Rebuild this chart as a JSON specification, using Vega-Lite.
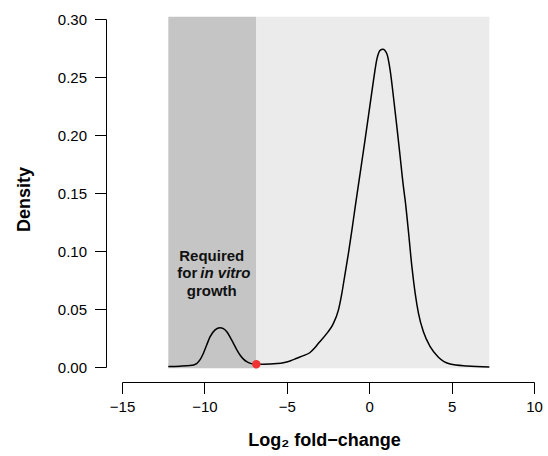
{
  "$schema": "https://vega.github.io/schema/vega-lite/v6.json",
  "autosize": "none",
  "padding": {"left": 122, "top": 19, "right": 14, "bottom": 89},
  "width": 412,
  "height": 348,
  "config": {"view": {"stroke": null}, "font": "Liberation Sans"},
  "datasets": {
    "regions": [
      {"x0": -12.19, "x1": -6.85, "y0": -0.001, "y1": 0.302, "zone": "required"},
      {"x0": -6.85, "x1": 7.29, "y0": -0.001, "y1": 0.302, "zone": "other"}
    ],
    "density": [
      {"x": -12.19, "y": 0.0005}, {"x": -11.5, "y": 0.0007}, {"x": -10.87, "y": 0.0012},
      {"x": -10.47, "y": 0.003}, {"x": -10.25, "y": 0.0065}, {"x": -10.06, "y": 0.0118},
      {"x": -9.86, "y": 0.019}, {"x": -9.66, "y": 0.026}, {"x": -9.35, "y": 0.032},
      {"x": -9.05, "y": 0.0339}, {"x": -8.85, "y": 0.033}, {"x": -8.64, "y": 0.0304},
      {"x": -8.44, "y": 0.0258}, {"x": -8.24, "y": 0.0204}, {"x": -8.04, "y": 0.015},
      {"x": -7.84, "y": 0.0103}, {"x": -7.63, "y": 0.0068}, {"x": -7.43, "y": 0.0046},
      {"x": -7.2, "y": 0.0031}, {"x": -6.92, "y": 0.0023}, {"x": -6.5, "y": 0.0024},
      {"x": -6.01, "y": 0.0026}, {"x": -5.6, "y": 0.003}, {"x": -5.21, "y": 0.0037},
      {"x": -4.8, "y": 0.0052}, {"x": -4.39, "y": 0.0075}, {"x": -3.99, "y": 0.0098},
      {"x": -3.59, "y": 0.0125}, {"x": -3.3, "y": 0.0165}, {"x": -3.08, "y": 0.0204},
      {"x": -2.57, "y": 0.029}, {"x": -2.2, "y": 0.0368}, {"x": -1.87, "y": 0.049},
      {"x": -1.66, "y": 0.0635},
      {"x": -1.46, "y": 0.0808}, {"x": -1.26, "y": 0.098}, {"x": -1.05, "y": 0.118},
      {"x": -0.85, "y": 0.138}, {"x": -0.55, "y": 0.167}, {"x": -0.25, "y": 0.196},
      {"x": 0.06, "y": 0.227}, {"x": 0.26, "y": 0.247}, {"x": 0.46, "y": 0.265},
      {"x": 0.66, "y": 0.273}, {"x": 0.83, "y": 0.274}, {"x": 1.07, "y": 0.27},
      {"x": 1.27, "y": 0.256}, {"x": 1.47, "y": 0.233}, {"x": 1.68, "y": 0.207},
      {"x": 1.88, "y": 0.181}, {"x": 2.08, "y": 0.155}, {"x": 2.18, "y": 0.144},
      {"x": 2.38, "y": 0.117}, {"x": 2.59, "y": 0.0865}, {"x": 2.79, "y": 0.0635},
      {"x": 2.99, "y": 0.0463}, {"x": 3.29, "y": 0.0304}, {"x": 3.7, "y": 0.0175},
      {"x": 4.2, "y": 0.0084}, {"x": 4.91, "y": 0.0026}, {"x": 5.93, "y": 0.0009},
      {"x": 7.29, "y": 0.0001}
    ],
    "cutoff": [{"x": -6.85, "y": 0.0023}],
    "labels": [
      {"x": -9.554, "y": 0.0957, "text": "Required", "part": "centre"},
      {"x": -10.367, "y": 0.0808, "text": "for", "part": "before"},
      {"x": -10.367, "y": 0.0808, "text": "in vitro", "part": "italic"},
      {"x": -9.554, "y": 0.0655, "text": "growth", "part": "centre"}
    ]
  },
  "layer": [
    {
      "data": {"name": "regions"},
      "mark": {"type": "rect", "stroke": null},
      "encoding": {
        "x": {"field": "x0", "type": "quantitative",
          "scale": {"domain": [-15, 10], "nice": false, "zero": false},
          "axis": {
            "values": [-15, -10, -5, 0, 5, 10], "format": "d", "grid": false,
            "offset": 15, "tickSize": 11.5, "tickColor": "black", "domainColor": "black",
            "tickWidth": 1, "domainWidth": 1,
            "labelFontSize": 15, "labelColor": "black", "labelPadding": 6,
            "labelFont": "Liberation Sans", "labelFlush": false,
            "title": "Log₂ fold−change", "titleFontSize": 18, "titleFontWeight": "bold",
            "titleColor": "black", "titleFont": "Liberation Sans",
            "titleX": 202, "titleY": 63, "titleBaseline": "alphabetic", "titleAnchor": "middle", "titleAlign": "center"
          }},
        "x2": {"field": "x1"},
        "y": {"field": "y0", "type": "quantitative",
          "scale": {"domain": [0, 0.3], "nice": false, "zero": false},
          "axis": {
            "values": [0, 0.05, 0.1, 0.15, 0.2, 0.25, 0.3], "format": ".2f", "grid": false,
            "offset": 16, "tickSize": 11.5, "tickColor": "black", "domainColor": "black",
            "tickWidth": 1, "domainWidth": 1,
            "labelFontSize": 15, "labelColor": "black", "labelPadding": 8,
            "labelFont": "Liberation Sans", "labelFlush": false,
            "title": "Density", "titleFontSize": 18, "titleFontWeight": "bold",
            "titleColor": "black", "titleFont": "Liberation Sans",
            "titleX": -77, "titleY": 180, "titleAngle": -90, "titleBaseline": "alphabetic", "titleAlign": "center"
          }},
        "y2": {"field": "y1"},
        "color": {"field": "zone", "type": "nominal",
          "scale": {"domain": ["required", "other"], "range": ["#c5c5c5", "#ebebeb"]},
          "legend": null}
      }
    },
    {
      "data": {"name": "density"},
      "mark": {"type": "line", "color": "black", "strokeWidth": 1.5, "interpolate": "monotone"},
      "encoding": {
        "x": {"field": "x", "type": "quantitative"},
        "y": {"field": "y", "type": "quantitative"}
      }
    },
    {
      "data": {"name": "cutoff"},
      "mark": {"type": "circle", "color": "#f03232", "opacity": 1, "size": 72},
      "encoding": {
        "x": {"field": "x", "type": "quantitative"},
        "y": {"field": "y", "type": "quantitative"}
      }
    },
    {
      "data": {"name": "labels"},
      "transform": [{"filter": "datum.part === 'centre'"}],
      "mark": {"type": "text", "fontWeight": "bold", "fontSize": 15, "color": "#111111", "baseline": "middle", "align": "center", "font": "Liberation Sans"},
      "encoding": {
        "x": {"field": "x", "type": "quantitative"},
        "y": {"field": "y", "type": "quantitative"},
        "text": {"field": "text"}
      }
    },
    {
      "data": {"name": "labels"},
      "transform": [{"filter": "datum.part === 'before'"}],
      "mark": {"type": "text", "fontWeight": "bold", "fontSize": 15, "color": "#111111", "baseline": "middle", "align": "right", "dx": -1, "font": "Liberation Sans"},
      "encoding": {
        "x": {"field": "x", "type": "quantitative"},
        "y": {"field": "y", "type": "quantitative"},
        "text": {"field": "text"}
      }
    },
    {
      "data": {"name": "labels"},
      "transform": [{"filter": "datum.part === 'italic'"}],
      "mark": {"type": "text", "fontWeight": "bold", "fontStyle": "italic", "fontSize": 15, "color": "#111111", "baseline": "middle", "align": "left", "dx": 2, "font": "Liberation Sans"},
      "encoding": {
        "x": {"field": "x", "type": "quantitative"},
        "y": {"field": "y", "type": "quantitative"},
        "text": {"field": "text"}
      }
    }
  ]
}
